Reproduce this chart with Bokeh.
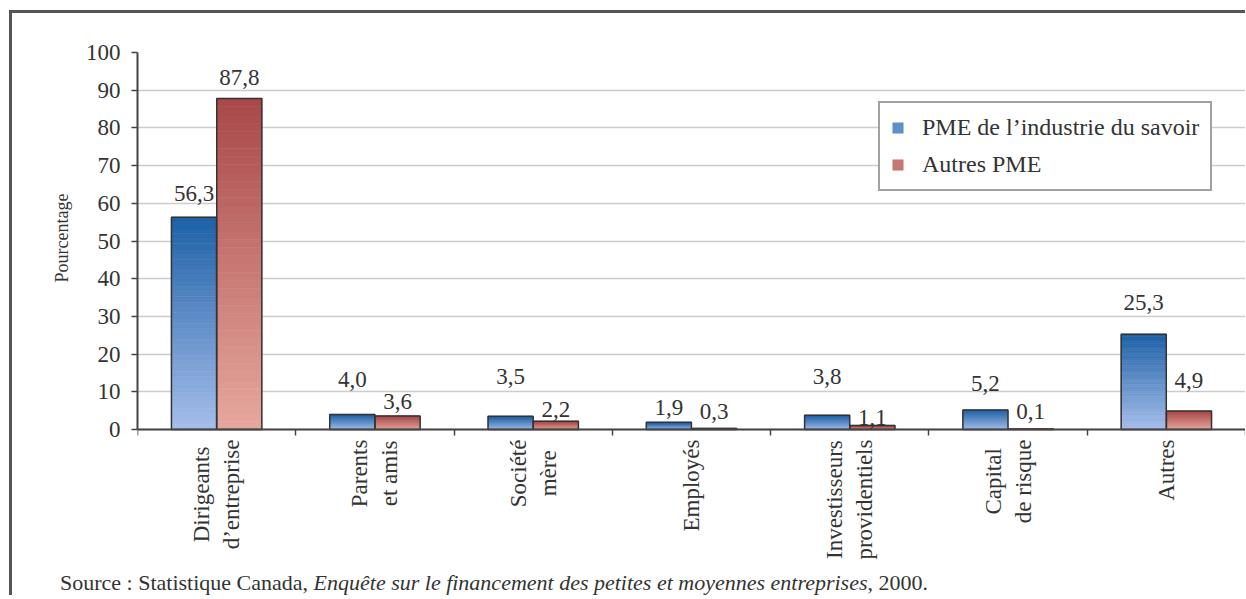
import numpy as np
from bokeh.plotting import figure
from bokeh.models import (ColumnDataSource, FixedTicker, LabelSet, Label, Legend, LegendItem,
                          Div, Range1d, Grid, Title)
from bokeh.layouts import column
from bokeh.embed import file_html
from bokeh.resources import INLINE

# ---------------- data ----------------
categories = ["Dirigeants\nd\u2019entreprise", "Parents\net amis", "Soci\u00e9t\u00e9\nm\u00e8re",
              "Employ\u00e9s", "Investisseurs\nprovidentiels", "Capital\nde risque", "Autres"]
series_names = ["PME de l\u2019industrie du savoir", "Autres PME"]
pme_savoir = [56.3, 4.0, 3.5, 1.9, 3.8, 5.2, 25.3]
autres_pme = [87.8, 3.6, 2.2, 0.3, 1.1, 0.1, 4.9]
y_ticks = [0, 10, 20, 30, 40, 50, 60, 70, 80, 90, 100]
y_axis_label = "Pourcentage"
source_plain_1 = "Source : Statistique Canada, "
source_italic = "Enqu\u00eate sur le financement des petites et moyennes entreprises"
source_plain_2 = ", 2000."

# ---------------- style ----------------
FONT = "Liberation Serif"
TXT = "#333333"
blue_top, blue_bottom = (29, 96, 166), (166, 190, 234)
red_top, red_bottom = (168, 72, 72), (230, 168, 158)
bar_w = 0.285
shift = 0.143
n_slices = 40
# per-label vertical nudges (screen px above the bar top)
nudge_blue = [24, 35, 40, 15, 39, 26, 32]
nudge_red = [21, 14, 12, 17, 8, 18, 31]
y_lo = -35   # room below the value axis for the category names


def hexcol(c):
    return "#%02x%02x%02x" % tuple(int(round(v)) for v in c)


def lerp(a, b, t):
    return tuple(a[i] + (b[i] - a[i]) * t for i in range(3))


y0, y1 = y_ticks[0], y_ticks[-1]
p = figure(width=1233, height=558, x_range=Range1d(-0.5, 6.5), y_range=Range1d(y_lo, y1),
           output_backend="svg", toolbar_location=None,
           min_border_left=125, min_border_top=39, min_border_bottom=10, min_border_right=0)
p.background_fill_color = "white"
p.border_fill_color = "white"
p.outline_line_color = None

idx = np.arange(len(categories))

# grid
p.xgrid.visible = False
p.ygrid.ticker = FixedTicker(ticks=y_ticks[:-1])
p.ygrid.grid_line_color = "#cccccc"
p.ygrid.grid_line_width = 1.5
# plot-area border: top line and right edge
p.add_layout(Grid(dimension=1, ticker=FixedTicker(ticks=[y1]),
                  grid_line_color="#555555", grid_line_width=2))
p.add_layout(Grid(dimension=0, ticker=FixedTicker(ticks=[len(categories) - 0.5]),
                  bounds=(y0, y1), grid_line_color="#888888", grid_line_width=1.5))

# gradient bars (slices derived from each value)
slice_renderers = []
for vals, off, ctop, cbot in [(pme_savoir, -shift, blue_top, blue_bottom),
                              (autres_pme, shift, red_top, red_bottom)]:
    xs, bots, tops, cols = [], [], [], []
    for i, v in enumerate(vals):
        for k in range(n_slices):
            xs.append(i + off)
            bots.append(v * k / n_slices)
            tops.append(v * (k + 1) / n_slices)
            cols.append(hexcol(lerp(cbot, ctop, (k + 0.5) / n_slices)))
    src = ColumnDataSource(dict(x=xs, bottom=bots, top=tops, c=cols))
    r = p.vbar(x="x", bottom="bottom", top="top", width=bar_w, fill_color="c",
               line_color="c", line_width=0.6, source=src)
    slice_renderers.append(r)

# bar outlines
src_b = ColumnDataSource(dict(x=idx - shift, top=pme_savoir,
                              lbl=[("%.1f" % v).replace(".", ",") for v in pme_savoir],
                              dy=nudge_blue))
src_r = ColumnDataSource(dict(x=idx + shift, top=autres_pme,
                              lbl=[("%.1f" % v).replace(".", ",") for v in autres_pme],
                              dy=nudge_red))
p.vbar(x="x", top="top", bottom=0, width=bar_w, fill_color=None, line_color="#333333",
       line_width=1.5, source=src_b)
p.vbar(x="x", top="top", bottom=0, width=bar_w, fill_color=None, line_color="#333333",
       line_width=1.5, source=src_r)

# value labels
for s in (src_b, src_r):
    p.add_layout(LabelSet(x="x", y="top", text="lbl", y_offset="dy", source=s,
                          text_align="center", text_baseline="middle",
                          text_font=FONT, text_font_size="23px", text_color=TXT))

# legend (uses a mid-height slice of the gradient bars as swatch)
mid = n_slices // 2
legend = Legend(items=[LegendItem(label=series_names[0], renderers=[slice_renderers[0]], index=mid),
                       LegendItem(label=series_names[1], renderers=[slice_renderers[1]], index=mid)],
                location=(741, 370), margin=0, padding=11, spacing=10,
                glyph_width=13, glyph_height=13, label_standoff=18,
                label_text_font=FONT, label_text_font_size="24px", label_text_color=TXT,
                border_line_color="#444444", border_line_width=2,
                background_fill_color="white", background_fill_alpha=1)
p.add_layout(legend)

# y axis (value axis only spans 0-100)
ya = p.yaxis[0]
ya.ticker = FixedTicker(ticks=y_ticks)
ya.bounds = (y0, y1)
ya.major_label_text_font = FONT
ya.major_label_text_font_size = "23px"
ya.major_label_text_color = TXT
ya.major_label_standoff = 11
ya.major_tick_out = 6
ya.major_tick_in = 0
ya.minor_tick_out = 0
ya.minor_tick_in = 0
ya.axis_line_color = "#444444"
ya.axis_line_width = 2
ya.major_tick_line_color = "#444444"
ya.major_tick_line_width = 1.5

# y axis title, placed along the 0-100 span
p.add_layout(Title(text=y_axis_label, align="right", offset=141, standoff=22,
                   text_font=FONT, text_font_size="18px", text_font_style="normal",
                   text_color=TXT), "left")

# x axis pinned at zero, ticks at category boundaries
xa = p.xaxis[0]
xa.fixed_location = 0
xa.ticker = FixedTicker(ticks=[], minor_ticks=[k - 0.5 for k in range(len(categories) + 1)])
xa.major_tick_out = 0
xa.major_tick_in = 0
xa.minor_tick_out = 6
xa.minor_tick_in = 0
xa.minor_tick_line_color = "#444444"
xa.minor_tick_line_width = 1.5
xa.axis_line_color = "#444444"
xa.axis_line_width = 2

# category names, centred lines, hanging below the axis
for i, c in enumerate(categories):
    p.add_layout(Label(x=i, y=0, x_units="data", y_units="data", y_offset=-10, text=c,
                       angle=np.pi / 2, text_align="center", anchor="center_right",
                       text_font=FONT, text_font_size="23px", text_color=TXT,
                       text_line_height=1.2))

src_div = Div(text=('<div style="margin-left:48px; font-family:\'Liberation Serif\', \'Times New Roman\', serif; '
                    'font-size:22px; line-height:24px; color:#333333; white-space:nowrap;">'
                    + source_plain_1 + '<i>' + source_italic + '</i>' + source_plain_2
                    + '</div>'),
              width=1233, height=24, margin=(0, 0, 0, 0))

layout = column(p, src_div, spacing=0, margin=(10, 0, 0, 9),
                styles={"border-left": "3px solid #555555", "border-top": "3px solid #555555"})

open("out.html", "w").write(file_html(layout, INLINE))
